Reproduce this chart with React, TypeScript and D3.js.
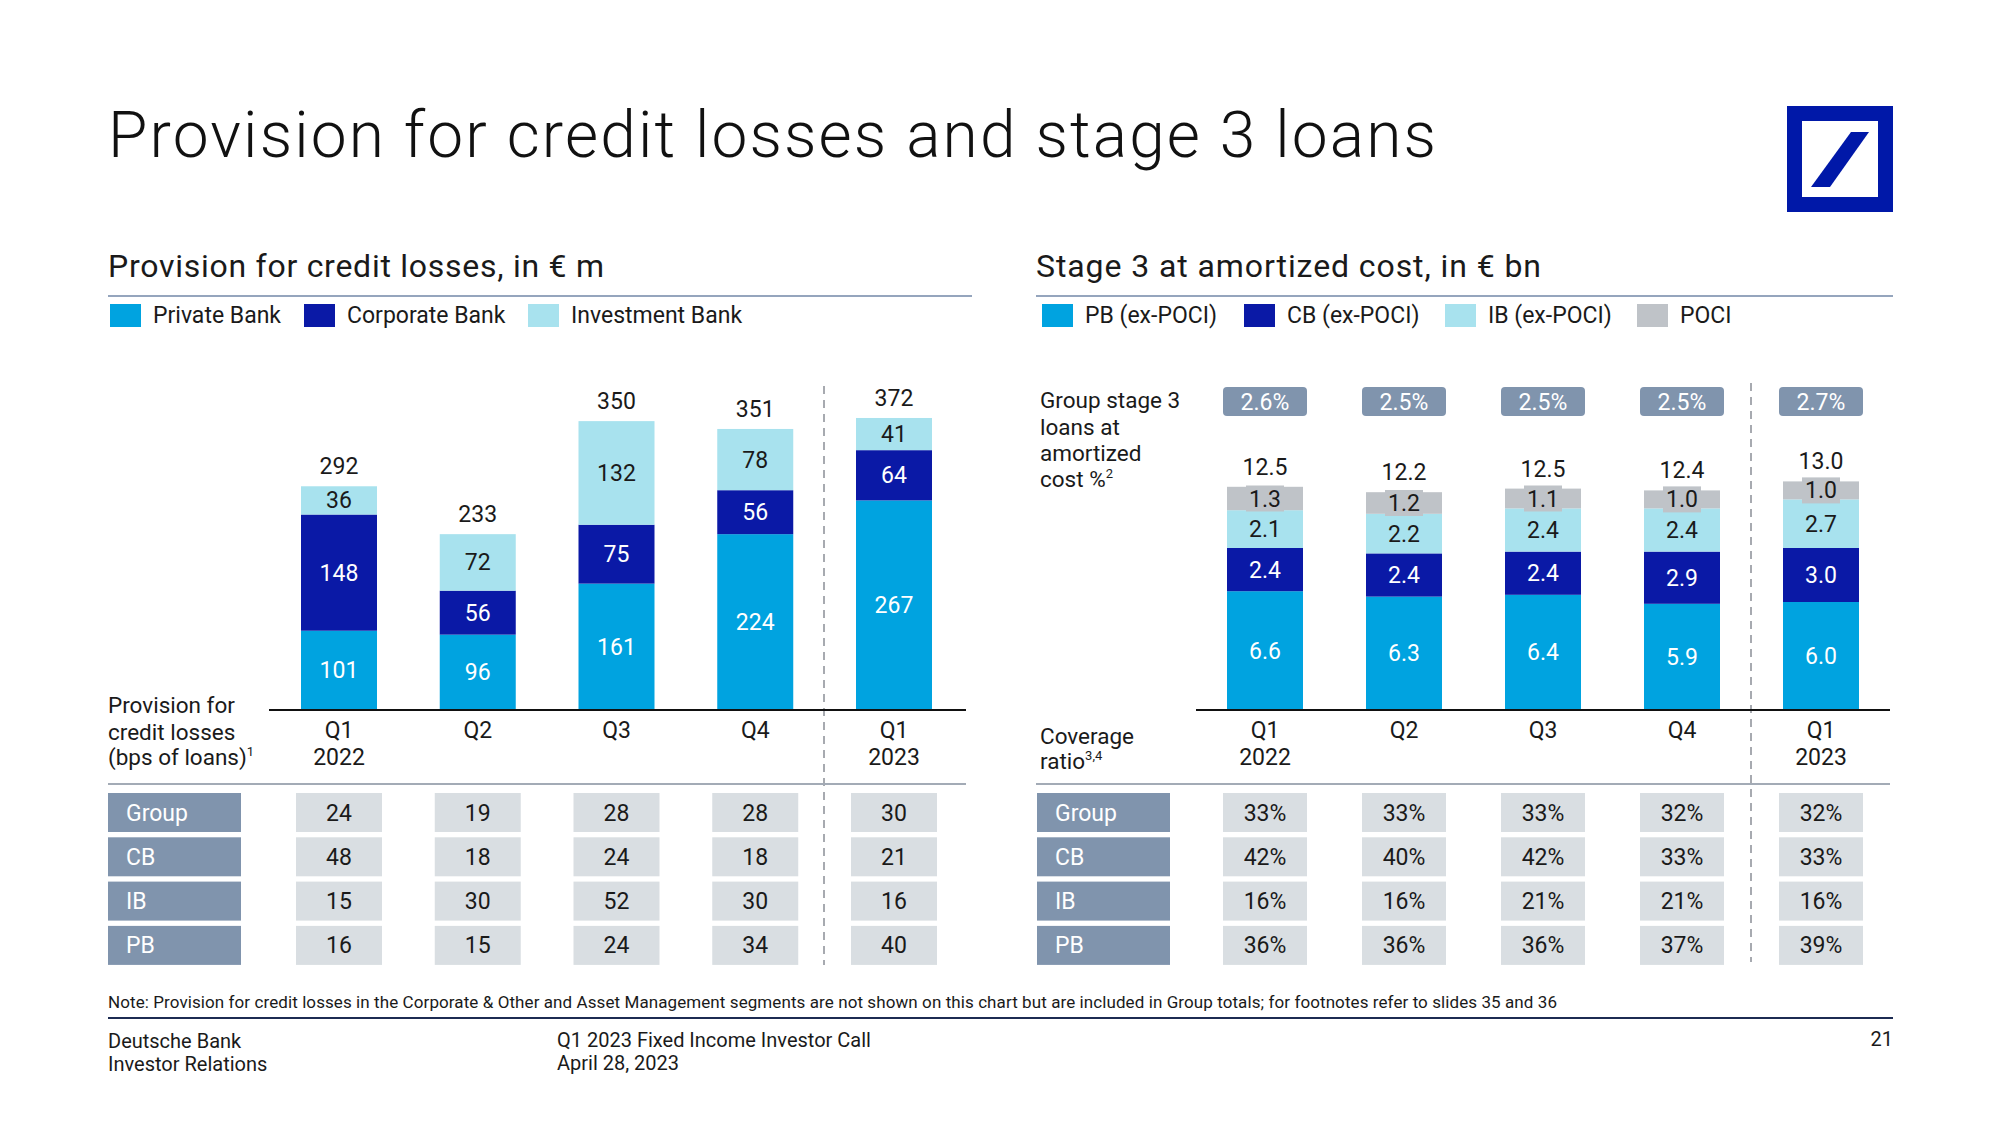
import React from "react";
import * as d3 from "d3";

// ---------- DATA ----------
const quarters = ["Q1", "Q2", "Q3", "Q4", "Q1"];
const years = ["2022", "", "", "", "2023"];

// Provision for credit losses, € m
const provPB = [101, 96, 161, 224, 267];
const provCB = [148, 56, 75, 56, 64];
const provIB = [36, 72, 132, 78, 41];
const provTotal = [292, 233, 350, 351, 372];
const provLegend = ["Private Bank", "Corporate Bank", "Investment Bank"];

// bps of loans
const bpsRowLabels = ["Group", "CB", "IB", "PB"];
const bpsGroup = [24, 19, 28, 28, 30];
const bpsCB = [48, 18, 24, 18, 21];
const bpsIB = [15, 30, 52, 30, 16];
const bpsPB = [16, 15, 24, 34, 40];

// Stage 3 at amortized cost, € bn
const s3PB = [6.6, 6.3, 6.4, 5.9, 6.0];
const s3CB = [2.4, 2.4, 2.4, 2.9, 3.0];
const s3IB = [2.1, 2.2, 2.4, 2.4, 2.7];
const s3POCI = [1.3, 1.2, 1.1, 1.0, 1.0];
const s3Total = [12.5, 12.2, 12.5, 12.4, 13.0];
const s3Ratio = ["2.6%", "2.5%", "2.5%", "2.5%", "2.7%"];
const s3Legend = ["PB (ex-POCI)", "CB (ex-POCI)", "IB (ex-POCI)", "POCI"];

// Coverage ratio, %
const covRowLabels = ["Group", "CB", "IB", "PB"];
const covGroup = [33, 33, 33, 32, 32];
const covCB = [42, 40, 42, 33, 33];
const covIB = [16, 16, 21, 21, 16];
const covPB = [36, 36, 36, 37, 39];

// ---------- STYLE ----------
const FONT = "Roboto, 'Noto Sans', sans-serif";
const C_PB = "#00A3E0";
const C_CB = "#0A19A6";
const C_IB = "#A8E2EE";
const C_POCI = "#BFC3C8";
const C_LABELBOX = "#8094AD";
const C_CELL = "#D9DEE2";
const C_TEXT = "#1a1a1a";
const C_SEP = "#95A5BD";

const BASE = 710;
const BAR_W = 76;

function Stack({ x, y, series, colors, textColors, fmt, idx, poci }) {
  let acc = 0;
  const out = [];
  series.forEach((s, k) => {
    const v = s[idx];
    const y0 = y(acc);
    const y1 = y(acc + v);
    acc += v;
    out.push(
      <rect key={"r" + k} x={x - BAR_W / 2} y={y1} width={BAR_W} height={y0 - y1} fill={colors[k]} />
    );
    const cy = (y0 + y1) / 2;
    if (poci && k === series.length - 1) {
      out.push(
        <rect key={"b" + k} x={x - 19} y={cy - 13} width={38} height={26} fill={colors[k]} />
      );
    }
    out.push(
      <text key={"t" + k} x={x} y={cy + 8} textAnchor="middle" fontSize={23} fill={textColors[k]}>
        {fmt(v)}
      </text>
    );
  });
  return <g>{out}</g>;
}

function Table({ x, rowLabels, rows, labelX, labelW, cellW, fmt }) {
  const rowTop = 793;
  const rowH = 39;
  const pitch = 44.3;
  return (
    <g>
      {rows.map((r, i) => {
        const ty = rowTop + i * pitch;
        return (
          <g key={i}>
            <rect x={labelX} y={ty} width={labelW} height={rowH} fill={C_LABELBOX} />
            <text x={labelX + 18} y={ty + rowH / 2 + 8} fontSize={23} fill="#fff">
              {rowLabels[i]}
            </text>
            {r.map((v, j) => (
              <g key={j}>
                <rect x={x(j) - cellW / 2} y={ty} width={cellW} height={rowH} fill={C_CELL} />
                <text x={x(j)} y={ty + rowH / 2 + 8} textAnchor="middle" fontSize={23} fill={C_TEXT}>
                  {fmt(v)}
                </text>
              </g>
            ))}
          </g>
        );
      })}
    </g>
  );
}

function Legend({ x0s, labels, colors, y }) {
  return (
    <g>
      {labels.map((l, i) => (
        <g key={i}>
          <rect x={x0s[i]} y={y} width={31} height={23} fill={colors[i]} />
          <text x={x0s[i] + 43} y={y + 19} fontSize={23} fill={C_TEXT}>
            {l}
          </text>
        </g>
      ))}
    </g>
  );
}

export default function App() {
  const idx = d3.range(quarters.length);
  const xL = d3.scalePoint<number>().domain(idx).range([339, 894]);
  const xR = d3.scalePoint<number>().domain(idx).range([1265, 1821]);
  const yL = d3.scaleLinear().domain([0, 400]).range([BASE, BASE - 314]);
  const yR = d3.scaleLinear().domain([0, 14]).range([BASE, BASE - 252]);

  const provStack = (i) => provPB[i] + provCB[i] + provIB[i];
  const s3Stack = (i) => s3PB[i] + s3CB[i] + s3IB[i] + s3POCI[i];

  const fmt1 = (v) => d3.format(".1f")(v);

  return (
    <svg width={2000} height={1125} style={{ display: "block", position: "absolute", left: 0, top: 0, background: "#fff" }} fontFamily={FONT}>
      <rect x={0} y={0} width={2000} height={1125} fill="#fff" />
      {/* Title */}
      <text x={108} y={157} fontSize={64} fill="#111" fontWeight={300} textLength={1328} lengthAdjust="spacing">
        Provision for credit losses and stage 3 loans
      </text>

      {/* Logo */}
      <rect x={1787} y={106} width={106} height={106} fill="#0018A8" />
      <rect x={1802} y={121} width={76} height={76} fill="#fff" />
      <polygon points="1851,132 1869,132 1830,187 1811,187" fill="#0018A8" />

      {/* Section headers */}
      <text x={108} y={277} fontSize={32} fill={C_TEXT} textLength={496} lengthAdjust="spacing">Provision for credit losses, in € m</text>
      <text x={1036} y={277} fontSize={32} fill={C_TEXT} textLength={505} lengthAdjust="spacing">Stage 3 at amortized cost, in € bn</text>
      <line x1={108} x2={972} y1={296} y2={296} stroke={C_SEP} strokeWidth={2} />
      <line x1={1036} x2={1893} y1={296} y2={296} stroke={C_SEP} strokeWidth={2} />

      <Legend x0s={[110, 304, 528]} labels={provLegend} colors={[C_PB, C_CB, C_IB]} y={304} />
      <Legend x0s={[1042, 1244, 1445, 1637]} labels={s3Legend} colors={[C_PB, C_CB, C_IB, C_POCI]} y={304} />

      {/* Dashed separators */}
      <line x1={824} x2={824} y1={386} y2={965} stroke="#8a8f96" strokeWidth={1.5} strokeDasharray="8,6" />
      <line x1={1751} x2={1751} y1={383} y2={962} stroke="#8a8f96" strokeWidth={1.5} strokeDasharray="8,6" />

      {/* Left bars */}
      {idx.map((i) => (
        <g key={"L" + i}>
          <Stack
            x={xL(i)}
            y={yL}
            series={[provPB, provCB, provIB]}
            colors={[C_PB, C_CB, C_IB]}
            textColors={["#fff", "#fff", C_TEXT]}
            fmt={(v) => String(v)}
            idx={i}
          />
          <text x={xL(i)} y={yL(provStack(i)) - 12} textAnchor="middle" fontSize={23} fill={C_TEXT}>
            {provTotal[i]}
          </text>
          <text x={xL(i)} y={738} textAnchor="middle" fontSize={23} fill={C_TEXT}>{quarters[i]}</text>
          <text x={xL(i)} y={765} textAnchor="middle" fontSize={23} fill={C_TEXT}>{years[i]}</text>
        </g>
      ))}
      <line x1={269} x2={966} y1={BASE} y2={BASE} stroke="#111" strokeWidth={2} />

      {/* Right bars */}
      {idx.map((i) => (
        <g key={"R" + i}>
          <rect x={xR(i) - 42} y={387} width={84} height={29} rx={4} fill={C_LABELBOX} />
          <text x={xR(i)} y={410} textAnchor="middle" fontSize={23} fill="#fff">{s3Ratio[i]}</text>
          <Stack
            x={xR(i)}
            y={yR}
            series={[s3PB, s3CB, s3IB, s3POCI]}
            colors={[C_PB, C_CB, C_IB, C_POCI]}
            textColors={["#fff", "#fff", C_TEXT, C_TEXT]}
            fmt={fmt1}
            idx={i}
            poci
          />
          <text x={xR(i)} y={yR(s3Stack(i)) - 12} textAnchor="middle" fontSize={23} fill={C_TEXT}>
            {fmt1(s3Total[i])}
          </text>
          <text x={xR(i)} y={738} textAnchor="middle" fontSize={23} fill={C_TEXT}>{quarters[i]}</text>
          <text x={xR(i)} y={765} textAnchor="middle" fontSize={23} fill={C_TEXT}>{years[i]}</text>
        </g>
      ))}
      <line x1={1196} x2={1890} y1={BASE} y2={BASE} stroke="#111" strokeWidth={2} />

      {/* Side labels */}
      <g fontSize={22.5} fill={C_TEXT}>
        <text x={108} y={713}>Provision for</text>
        <text x={108} y={740}>credit losses</text>
        <text x={108} y={765}>
          (bps of loans)<tspan fontSize={13} dy={-9}>1</tspan>
        </text>
        <text x={1040} y={408}>Group stage 3</text>
        <text x={1040} y={435}>loans at</text>
        <text x={1040} y={461}>amortized</text>
        <text x={1040} y={487}>
          cost %<tspan fontSize={13} dy={-9}>2</tspan>
        </text>
        <text x={1040} y={744}>Coverage</text>
        <text x={1040} y={769}>
          ratio<tspan fontSize={13} dy={-9}>3,4</tspan>
        </text>
      </g>

      {/* Table header lines */}
      <line x1={108} x2={966} y1={784} y2={784} stroke="#A3ABB6" strokeWidth={2} />
      <line x1={1036} x2={1890} y1={784} y2={784} stroke="#A3ABB6" strokeWidth={2} />

      <Table
        x={xL}
        rowLabels={bpsRowLabels}
        rows={[bpsGroup, bpsCB, bpsIB, bpsPB]}
        labelX={108}
        labelW={133}
        cellW={86}
        fmt={(v) => String(v)}
      />
      <Table
        x={xR}
        rowLabels={covRowLabels}
        rows={[covGroup, covCB, covIB, covPB]}
        labelX={1037}
        labelW={133}
        cellW={84}
        fmt={(v) => v + "%"}
      />

      {/* Footer */}
      <text x={108} y={1008} fontSize={17} fill={C_TEXT} textLength={1449} lengthAdjust="spacing">
        Note: Provision for credit losses in the Corporate &amp; Other and Asset Management segments are not shown on this chart but are included in Group totals; for footnotes refer to slides 35 and 36
      </text>
      <line x1={108} x2={1893} y1={1018} y2={1018} stroke="#1C2B52" strokeWidth={2} />
      <g fontSize={20} fill={C_TEXT}>
        <text x={108} y={1048}>Deutsche Bank</text>
        <text x={108} y={1071}>Investor Relations</text>
        <text x={557} y={1047}>Q1 2023 Fixed Income Investor Call</text>
        <text x={557} y={1070}>April 28, 2023</text>
        <text x={1893} y={1046} textAnchor="end">21</text>
      </g>
    </svg>
  );
}
